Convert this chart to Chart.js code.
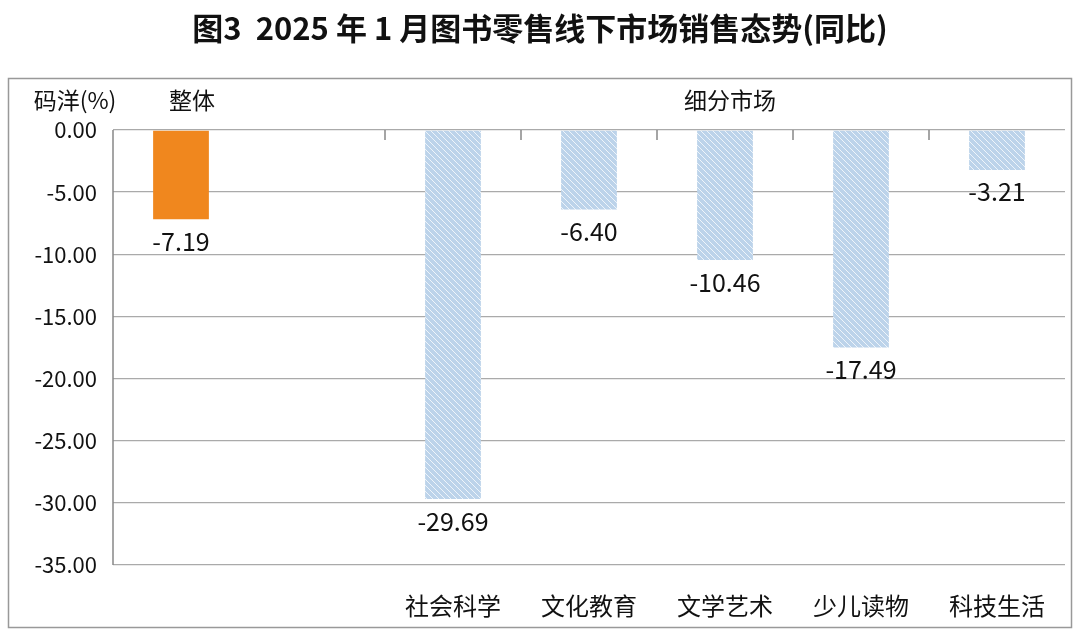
<!DOCTYPE html>
<html><head><meta charset="utf-8">
<script src="https://cdn.jsdelivr.net/npm/chart.js@4"></script>
<style>body{margin:0;background:#fff}#c{display:block}</style>
</head><body>
<canvas id="c" width="1080" height="636"></canvas>
<script>
const categories = ['整体', '', '社会科学', '文化教育', '文学艺术', '少儿读物', '科技生活'];
const values = [-7.19, null, -29.69, -6.40, -10.46, -17.49, -3.21];
const yTicks = [0, -5, -10, -15, -20, -25, -30, -35];
const FONT = '"Noto Sans CJK SC", "Noto Sans", sans-serif';

// hatched light blue fill
const pc = document.createElement('canvas');
pc.width = 6; pc.height = 6;
const p = pc.getContext('2d');
p.fillStyle = '#bcd3ea'; p.fillRect(0, 0, 6, 6);
p.strokeStyle = 'rgba(255,255,255,0.75)'; p.lineWidth = 1;
p.beginPath(); p.moveTo(0, 0); p.lineTo(6, 6); p.moveTo(-3, 3); p.lineTo(3, 9); p.moveTo(3, -3); p.lineTo(9, 3); p.stroke();
const ctx = document.getElementById('c').getContext('2d');
const hatch = ctx.createPattern(pc, 'repeat');

const decor = {
    id: 'decor',
    beforeDraw(chart) {
        const c = chart.ctx;
        c.save();
        c.fillStyle = '#fff'; c.fillRect(0, 0, 1080, 636);
        c.strokeStyle = '#999'; c.lineWidth = 1.5;
        c.strokeRect(8.5, 78.5, 1063, 549);
        c.fillStyle = '#111';
        c.textAlign = 'center'; c.textBaseline = 'middle';
        c.font = '600 31px ' + FONT;
        c.fillText('图3  2025 年 1 月图书零售线下市场销售态势(同比)', 540, 28);
        c.font = '23px ' + FONT;
        c.fillText('码洋(%)', 75, 100);
        c.fillText('整体', 192, 100);
        c.fillText('细分市场', 730, 100);
        c.restore();
    },
    afterDraw(chart) {
        const c = chart.ctx, x = chart.scales.x, y = chart.scales.y;
        const a = chart.chartArea;
        c.save();
        c.strokeStyle = '#888'; c.lineWidth = 1.5;
        c.beginPath();
        c.moveTo(a.left, a.top); c.lineTo(a.left, a.bottom);
        for (let i = 2; i < categories.length; i++) {
            const bx = (x.getPixelForValue(i - 1) + x.getPixelForValue(i)) / 2;
            c.moveTo(bx, a.top); c.lineTo(bx, a.top + 10);
        }
        c.stroke();
        c.fillStyle = '#111'; c.font = '25px ' + FONT;
        c.textAlign = 'center'; c.textBaseline = 'middle';
        values.forEach((v, i) => {
            if (v === null) return;
            c.fillText(v.toFixed(2), x.getPixelForValue(i), y.getPixelForValue(v) + 22);
        });
        c.restore();
    }
};

new Chart(ctx, {
    type: 'bar',
    data: {
        labels: categories,
        datasets: [{
            data: values,
            backgroundColor: values.map((v, i) => i === 0 ? '#f0871e' : hatch),
            barPercentage: 0.41,
            categoryPercentage: 1
        }]
    },
    options: {
        responsive: false,
        animation: false,
        layout: { padding: { top: 130, right: 15, left: 0, bottom: 0 } },
        plugins: { legend: { display: false }, tooltip: { enabled: false } },
        scales: {
            x: {
                position: 'bottom',
                grid: { display: false },
                border: { display: false },
                ticks: { color: '#111', font: { family: FONT, size: 24 }, padding: 18, maxRotation: 0,
                         callback: (v, i) => i === 0 ? '' : categories[i] },
                afterFit: s => { s.height = 71; }
            },
            y: {
                min: -35, max: 0,
                afterBuildTicks: s => { s.ticks = yTicks.map(v => ({ value: v })); },
                grid: { color: '#aaa', lineWidth: 1.3, drawTicks: false },
                border: { display: false },
                ticks: { color: '#111', font: { family: FONT, size: 22 }, padding: 16,
                         callback: v => v.toFixed(2) },
                afterFit: s => { s.width = 113; }
            }
        }
    },
    plugins: [decor]
});
</script>
</body></html>
